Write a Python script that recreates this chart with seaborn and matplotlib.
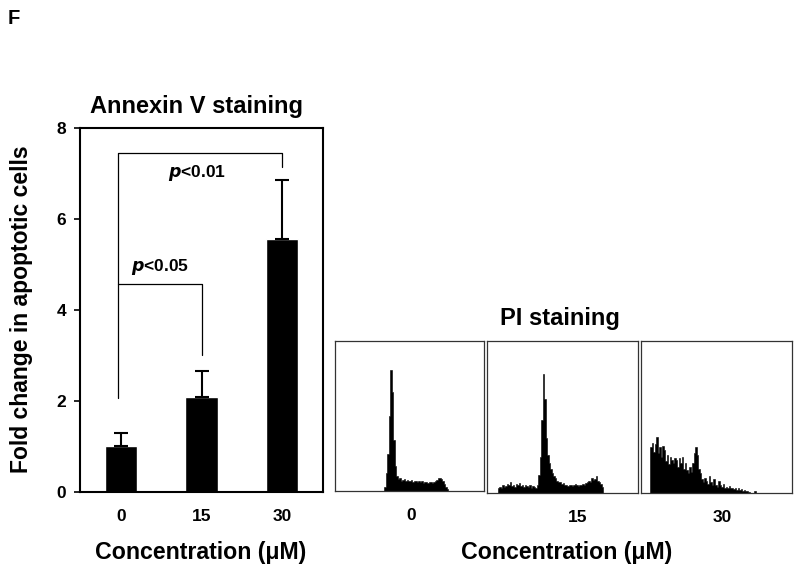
import numpy as np
import pandas as pd
import matplotlib
matplotlib.use("Agg")
import matplotlib.pyplot as plt
import seaborn as sns

# Annexin V bar data
conc = ["0", "15", "30"]
fold_mean = [1.0, 2.09, 5.56]
fold_err = [0.30, 0.57, 1.30]

# PI staining histograms (channel index in 1/100 of the DNA axis, relative counts)
hist_labels = ["0", "15", "30"]
hist0_start = 33
hist0_counts = [0.03, 0.12, 0.25, 0.50, 0.81, 0.66, 0.34, 0.17, 0.10, 0.08,
                0.085, 0.07, 0.075, 0.08, 0.07, 0.075, 0.065, 0.07, 0.075, 0.06,
                0.065, 0.07, 0.06, 0.065, 0.06, 0.065, 0.055, 0.06, 0.06, 0.055,
                0.06, 0.06, 0.055, 0.06, 0.07, 0.075, 0.09, 0.085, 0.08, 0.07,
                0.05, 0.03, 0.015]
hist1_start = 7
hist1_counts = [0.03, 0.04, 0.035, 0.05, 0.04, 0.045, 0.06, 0.05, 0.07, 0.045,
                0.055, 0.04, 0.06, 0.05, 0.065, 0.045, 0.05, 0.04, 0.055, 0.045,
                0.04, 0.05, 0.035, 0.045, 0.04, 0.03, 0.05,
                0.12, 0.24, 0.48, 0.78, 0.62, 0.36, 0.25, 0.20, 0.16, 0.13,
                0.11, 0.10, 0.08, 0.07, 0.075, 0.06, 0.065, 0.05, 0.055, 0.045,
                0.05, 0.055, 0.045, 0.05, 0.06, 0.05, 0.045, 0.05, 0.055, 0.06,
                0.05, 0.065, 0.07, 0.08, 0.07, 0.10, 0.085, 0.09, 0.11, 0.08,
                0.07, 0.06, 0.04]
hist2_start = 6
hist2_counts = [0.30, 0.33, 0.27, 0.32, 0.37, 0.26, 0.30, 0.24, 0.31, 0.28,
                0.21, 0.25, 0.19, 0.24, 0.22, 0.20, 0.23, 0.22, 0.17, 0.23,
                0.20, 0.24, 0.16, 0.20, 0.15, 0.13, 0.17, 0.14, 0.20, 0.26,
                0.30, 0.25, 0.16, 0.13, 0.09, 0.07, 0.10, 0.08, 0.06, 0.11,
                0.07, 0.05, 0.09, 0.05, 0.04, 0.08, 0.05, 0.04, 0.06, 0.035,
                0.04, 0.03, 0.045, 0.03, 0.035, 0.025, 0.03, 0.02, 0.03, 0.02,
                0.025, 0.015, 0.02, 0.01, 0.015, 0.005, 0.0, 0.0, 0.0, 0.01]

sns.set_style("white")
plt.rcParams['font.family'] = ['Liberation Sans', 'DejaVu Sans']
plt.rcParams['font.weight'] = 'bold'
plt.rcParams['text.color'] = 'black'
plt.rcParams['xtick.color'] = 'black'
plt.rcParams['ytick.color'] = 'black'

fig = plt.figure(figsize=(8, 5.72), dpi=100)

#### bar chart
ax = fig.add_axes([0.1, 0.1399, 0.30375, 0.6364])
df = pd.DataFrame({"conc": conc, "fold": fold_mean})
sns.barplot(data=df, x="conc", y="fold", color="black", width=0.4,
            saturation=1, ax=ax, errorbar=None)
ax.errorbar(x=np.arange(len(conc)), y=fold_mean,
            yerr=[np.zeros(len(conc)), fold_err], fmt="none",
            ecolor="black", elinewidth=1.5, capsize=5, capthick=1.5)
ax.set_xlim(-0.51, 2.51)
ax.set_ylim(0, 8)
ax.set_yticks([0, 2, 4, 6, 8])
ax.tick_params(axis="y", length=4, width=1.2, direction="out", labelsize=12.5, pad=6, left=True)
ax.tick_params(axis="x", length=0, labelsize=12.5, pad=12)
for lab in ax.get_xticklabels() + ax.get_yticklabels():
    lab.set_fontweight("bold")
ax.set_xlabel("")
ax.set_ylabel("")
for s in ax.spines.values():
    s.set_color("black")
    s.set_linewidth(1.5)

# significance brackets
ax.plot([-0.04, -0.04, 2.0, 2.0], [2.07, 7.45, 7.45, 7.14], color="black", lw=0.9)
ax.plot([-0.04, 1.0, 1.0], [4.57, 4.57, 3.0], color="black", lw=0.9)
ax.text(0.95, 7.0, r"$\bf\it{p}$<0.01", ha="center", va="center", fontsize=12.5, fontweight="bold")
ax.text(0.48, 4.95, r"$\bf\it{p}$<0.05", ha="center", va="center", fontsize=12.5, fontweight="bold")

#### PI histograms
panels = [([0.41875, 0.1416, 0.18625, 0.2622], hist0_start, hist0_counts, 0.51),
          ([0.60875, 0.1381, 0.18875, 0.2657], hist1_start, hist1_counts, 0.60),
          ([0.80125, 0.1381, 0.18875, 0.2657], hist2_start, hist2_counts, 0.54)]
for (rect, start, counts, lab_x), lab in zip(panels, hist_labels):
    hx = fig.add_axes(rect)
    hdf = pd.DataFrame({"chan": (start + np.arange(len(counts)) + 0.5) / 100,
                        "count": counts})
    sns.histplot(data=hdf, x="chan", weights="count", binwidth=0.01, binrange=(0, 1),
                 ax=hx, color="black", element="step", fill=True, alpha=1, linewidth=0.4)
    hx.set_xlim(0, 1)
    hx.set_ylim(0, 1)
    hx.set_yticks([])
    hx.set_xticks([lab_x])
    hx.set_xticklabels([lab], fontsize=12.5, fontweight="bold")
    hx.tick_params(axis="x", length=0, pad=12)
    hx.set_xlabel("")
    hx.set_ylabel("")
    for s in hx.spines.values():
        s.set_color("#333333")
        s.set_linewidth(0.9)

#### texts
fig.text(14 / 800, 1 - 19 / 572, "F", fontsize=14.5, fontweight="bold", ha="center", va="center")
fig.text(197 / 800, 1 - 106 / 572, "Annexin V staining", fontsize=17, fontweight="bold",
         ha="center", va="center")
fig.text(560 / 800, 1 - 318 / 572, "PI staining", fontsize=17, fontweight="bold",
         ha="center", va="center")
fig.text(22 / 800, 1 - 309 / 572, "Fold change in apoptotic cells", fontsize=16.5,
         fontweight="bold", rotation=90, ha="center", va="center")
fig.text(201 / 800, 1 - 552 / 572, "Concentration (\u03bcM)", fontsize=16.7,
         fontweight="bold", ha="center", va="center")
fig.text(567 / 800, 1 - 553 / 572, "Concentration (\u03bcM)", fontsize=16.7,
         fontweight="bold", ha="center", va="center")

fig.savefig("out.png", dpi=100)
